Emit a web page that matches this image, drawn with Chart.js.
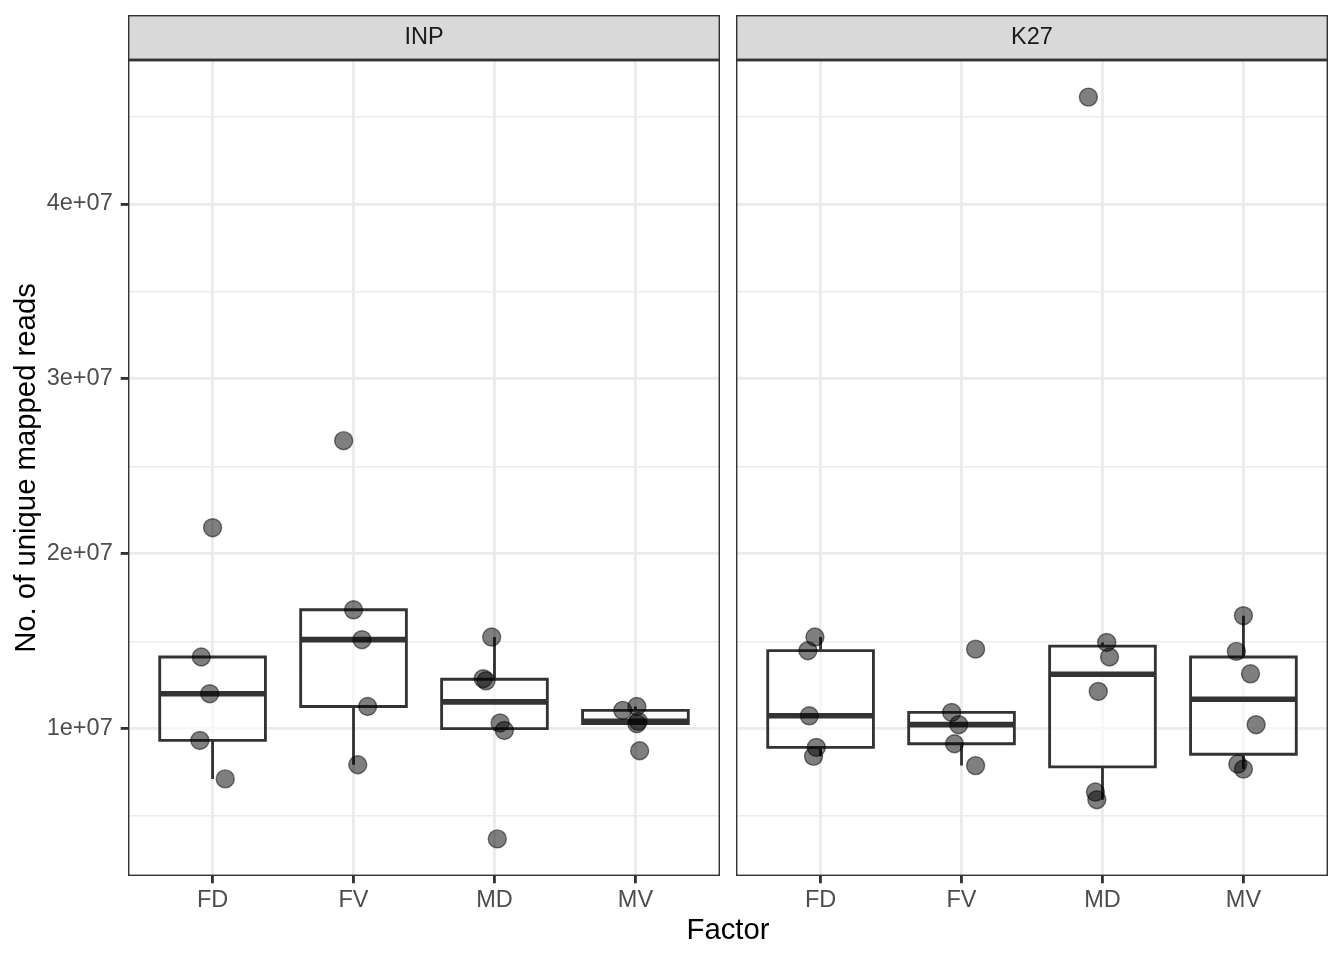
<!DOCTYPE html>
<html>
<head>
<meta charset="utf-8">
<title>Unique mapped reads by factor</title>
<script src="https://cdn.jsdelivr.net/npm/chart.js@4.4.1/dist/chart.umd.min.js"></script>
<style>
    body { margin: 0; background: #fff; }
    #wrap { position: relative; width: 1344px; height: 960px; }
    #inpChart { position: absolute; left: 0; top: 0; width: 724px; height: 960px; }
    #k27Chart { position: absolute; left: 732px; top: 0; width: 600px; height: 960px; }
    #xTitle {
        position: absolute; left: 128px; width: 1200px; top: 914px;
        text-align: center; color: #000;
        font: 29.3px 'Liberation Sans', Arial, sans-serif; line-height: 29px;
    }
</style>
</head>
<body>
<div id="wrap">
    <canvas id="inpChart" width="724" height="960"></canvas>
    <canvas id="k27Chart" width="600" height="960"></canvas>
    <div id="xTitle">Factor</div>
</div>
<script>
let factors = ['FD', 'FV', 'MD', 'MV'];
let yTickValues = [5e6, 1e7, 1.5e7, 2e7, 2.5e7, 3e7, 3.5e7, 4e7, 4.5e7];

// INP reads per factor
let inpFD = [21490000, 14100000, 12000000, 9330000, 7130000];
let inpFV = [26470000, 16800000, 15090000, 11270000, 7940000];
let inpMD = [15240000, 12860000, 12740000, 10330000, 9900000, 3700000];
let inpMV = [11050000, 11270000, 10420000, 10290000, 8740000];

// K27 reads per factor
let k27FD = [15240000, 14460000, 10740000, 8930000, 8420000];
let k27FV = [14550000, 10930000, 10230000, 9140000, 7890000];
let k27MD = [46110000, 14930000, 14100000, 12130000, 6380000, 5940000];
let k27MV = [16460000, 14420000, 13140000, 10230000, 7980000, 7690000];

// horizontal jitter of each point, in category units
let inpJitter = [
    [0.00, -0.08, -0.02, -0.09, 0.09],
    [-0.07, 0.00, 0.06, 0.10, 0.03],
    [-0.02, -0.08, -0.06, 0.04, 0.07, 0.02],
    [-0.09, 0.01, 0.02, 0.01, 0.03]
];
let k27Jitter = [
    [-0.04, -0.09, -0.08, -0.03, -0.05],
    [0.10, -0.07, -0.02, -0.05, 0.10],
    [-0.10, 0.03, 0.05, -0.03, -0.05, -0.04],
    [0.00, -0.05, 0.05, 0.09, -0.04, 0.00]
];

let inpGroups = [inpFD, inpFV, inpMD, inpMV];
let k27Groups = [k27FD, k27FV, k27MD, k27MV];

const FONT = "'Liberation Sans', Arial, sans-serif";
const BOX_HALF = 0.375;
const STRIP_H = 45;

function quantile(sorted, p) {
    let h = (sorted.length - 1) * p;
    let lo = Math.floor(h);
    let hi = Math.min(lo + 1, sorted.length - 1);
    return sorted[lo] + (h - lo) * (sorted[hi] - sorted[lo]);
}

function boxStats(vals) {
    let s = vals.slice().sort((a, b) => a - b);
    let q1 = quantile(s, 0.25), med = quantile(s, 0.5), q3 = quantile(s, 0.75);
    let iqr = q3 - q1;
    let inside = s.filter(v => v >= q1 - 1.5 * iqr && v <= q3 + 1.5 * iqr);
    return { q1: q1, med: med, q3: q3, lo: inside[0], hi: inside[inside.length - 1] };
}

function sci(v) {
    let parts = v.toExponential().split('e');
    let exp = parseInt(parts[1], 10);
    let sign = exp < 0 ? '-' : '+';
    return parts[0] + 'e' + sign + String(Math.abs(exp)).padStart(2, '0');
}

// y range: data range expanded by 5% on each side
let allValues = inpGroups.concat(k27Groups).flat();
let dataMin = Math.min(...allValues);
let dataMax = Math.max(...allValues);
let yMin = dataMin - 0.05 * (dataMax - dataMin);
let yMax = dataMax + 0.05 * (dataMax - dataMin);

function buildDatasets(groups, jitter) {
    let points = [], boxes = [], medians = [], whiskers = [];
    groups.forEach((vals, i) => {
        let x = i + 1;
        let s = boxStats(vals);
        vals.forEach((v, j) => points.push({ x: x + jitter[i][j], y: v }));
        boxes.push(
            { x: x - BOX_HALF, y: s.q1 }, { x: x + BOX_HALF, y: s.q1 },
            { x: x + BOX_HALF, y: s.q3 }, { x: x - BOX_HALF, y: s.q3 },
            { x: x - BOX_HALF, y: s.q1 }, { x: x + BOX_HALF, y: s.q1 },
            { x: x, y: null }
        );
        medians.push({ x: x - BOX_HALF, y: s.med }, { x: x + BOX_HALF, y: s.med }, { x: x, y: null });
        whiskers.push(
            { x: x, y: s.q3 }, { x: x, y: s.hi }, { x: x, y: null },
            { x: x, y: s.q1 }, { x: x, y: s.lo }, { x: x, y: null }
        );
    });
    let lineStyle = { showLine: true, spanGaps: false, pointRadius: 0, borderColor: '#333333', order: 1 };
    return [
        { label: 'points', data: points, pointRadius: 9, pointBorderWidth: 1.4,
          backgroundColor: 'rgba(0,0,0,0.5)', borderColor: 'rgba(0,0,0,0.5)', order: 0 },
        Object.assign({ label: 'box', data: boxes, borderWidth: 2.84 }, lineStyle),
        Object.assign({ label: 'median', data: medians, borderWidth: 5.7 }, lineStyle),
        Object.assign({ label: 'whisker', data: whiskers, borderWidth: 2.84 }, lineStyle)
    ];
}

function panelPlugin(name, groups) {
    return {
        id: 'panel' + name,
        beforeDatasetsDraw(chart) {
            let ctx = chart.ctx, x = chart.scales.x, y = chart.scales.y;
            ctx.save();
            ctx.fillStyle = 'rgba(255,255,255,0.6)';
            groups.forEach((vals, i) => {
                let s = boxStats(vals);
                let l = x.getPixelForValue(i + 1 - BOX_HALF), r = x.getPixelForValue(i + 1 + BOX_HALF);
                let t = y.getPixelForValue(s.q3), b = y.getPixelForValue(s.q1);
                ctx.fillRect(l, t, r - l, b - t);
            });
            ctx.restore();
        },
        afterDraw(chart) {
            let ctx = chart.ctx, a = chart.chartArea;
            let top = a.top - STRIP_H;
            ctx.save();
            ctx.fillStyle = '#D9D9D9';
            ctx.fillRect(a.left, top, a.right - a.left, STRIP_H);
            ctx.strokeStyle = '#333333';
            ctx.lineWidth = 1.42;
            ctx.strokeRect(a.left + 0.71, top + 0.71, a.right - a.left - 1.42, STRIP_H - 1.42);
            ctx.strokeRect(a.left + 0.71, a.top + 0.71, a.right - a.left - 1.42, a.bottom - a.top - 1.42);
            ctx.fillStyle = '#1A1A1A';
            ctx.font = '23.5px ' + FONT;
            ctx.textAlign = 'center';
            ctx.textBaseline = 'middle';
            ctx.fillText(name, (a.left + a.right) / 2, top + STRIP_H / 2);
            ctx.restore();
        }
    };
}

function isMajor(c) {
    return c.tick && c.tick.value % 1e7 === 0;
}

function makeChart(canvasId, name, groups, jitter, withAxis) {
    let yScale = {
        min: yMin,
        max: yMax,
        afterBuildTicks: s => { s.ticks = yTickValues.map(v => ({ value: v })); },
        afterFit: s => { s.width = withAxis ? 128 : 4; },
        ticks: {
            display: withAxis,
            autoSkip: false,
            padding: 8,
            color: '#4D4D4D',
            font: { family: FONT, size: 23.5 },
            callback: v => (v % 1e7 === 0 ? sci(v) : '')
        },
        grid: {
            color: '#EBEBEB',
            lineWidth: c => (isMajor(c) ? 2.84 : 1.42),
            drawTicks: withAxis,
            tickLength: 7.3,
            tickWidth: 2.84,
            tickColor: c => (isMajor(c) ? '#333333' : 'rgba(0,0,0,0)')
        },
        border: { display: false },
        title: {
            display: withAxis,
            text: 'No. of unique mapped reads',
            color: '#000000',
            font: { family: FONT, size: 29.3, lineHeight: 1.2 },
            padding: { top: 9, bottom: 0 }
        }
    };

    return new Chart(document.getElementById(canvasId), {
        type: 'scatter',
        data: { datasets: buildDatasets(groups, jitter) },
        options: {
            responsive: false,
            devicePixelRatio: 1,
            animation: false,
            events: [],
            layout: { autoPadding: false, padding: { top: 60, right: 4, left: 0, bottom: 0 } },
            plugins: { legend: { display: false }, tooltip: { enabled: false } },
            scales: {
                x: {
                    type: 'linear',
                    min: 0.4,
                    max: 4.6,
                    afterBuildTicks: s => { s.ticks = factors.map((f, i) => ({ value: i + 1 })); },
                    afterFit: s => { s.height = 84; },
                    ticks: {
                        autoSkip: false,
                        maxRotation: 0,
                        padding: 3,
                        color: '#4D4D4D',
                        font: { family: FONT, size: 23.5 },
                        callback: v => factors[Math.round(v) - 1]
                    },
                    grid: {
                        color: '#EBEBEB',
                        lineWidth: 2.84,
                        tickLength: 7.3,
                        tickWidth: 2.84,
                        tickColor: '#333333'
                    },
                    border: { display: false }
                },
                y: yScale
            }
        },
        plugins: [panelPlugin(name, groups)]
    });
}

document.addEventListener('DOMContentLoaded', () => {
    makeChart('inpChart', 'INP', inpGroups, inpJitter, true);
    makeChart('k27Chart', 'K27', k27Groups, k27Jitter, false);
});
</script>
</body>
</html>
